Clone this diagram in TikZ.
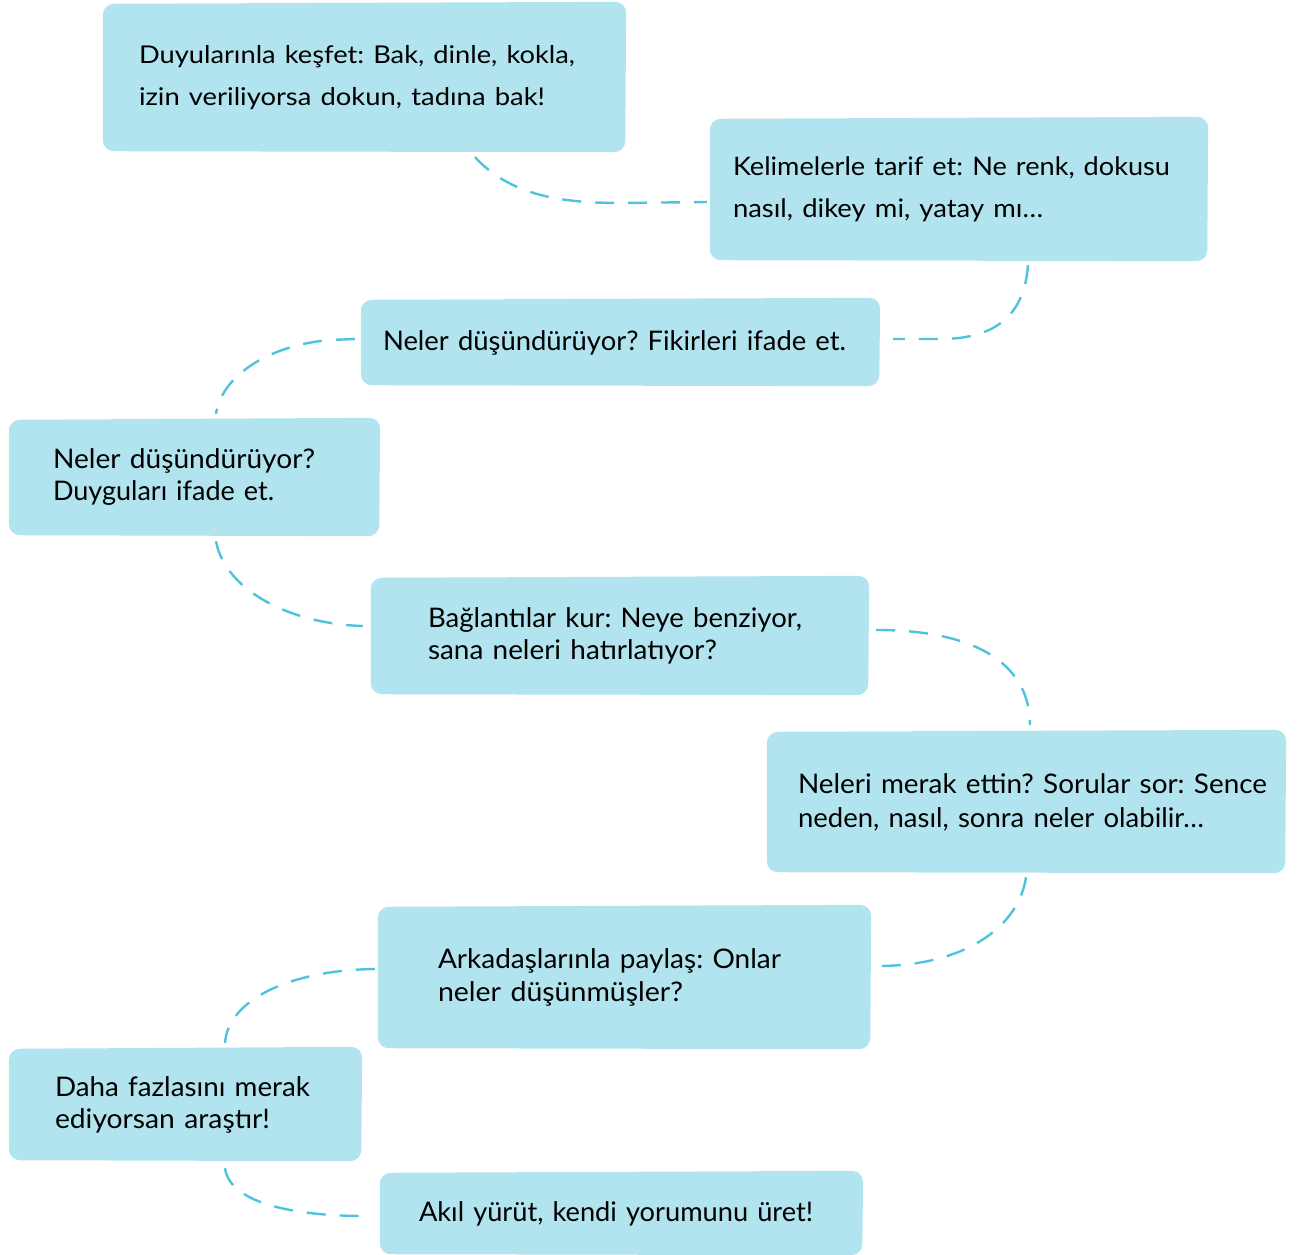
\documentclass[tikz,border=0pt]{standalone}
\usepackage{fontspec}
\usepackage{graphicx}
\setmainfont{Lato}
\frenchspacing
\usetikzlibrary{calc,backgrounds}
\definecolor{boxfill}{HTML}{B1E4EE}
\definecolor{dashcol}{HTML}{4FC3DB}
\newcommand\fitline[2]{\resizebox{#1pt}{\height}{#2}}
\tikzset{
  stepbox/.style={draw=none, fill=none, align=left, anchor=center, inner ysep=0pt},
  conn/.style={draw=dashcol, line width=2.4pt, dash pattern=on 19pt off 14pt},
  blob/.style={fill=boxfill, rounded corners=11pt}
}
\begin{document}
\begin{tikzpicture}[x=1pt,y=-1pt]
\useasboundingbox (0,0) rectangle (1301,1255);

\node[stepbox, minimum width=525pt, minimum height=149pt, text width=451pt, inner xsep=37pt, font=\fontsize{24.5}{42}\selectfont] (b1) at (364.5,77.5)
  {\fitline{436}{Duyularınla keşfet: Bak, dinle, kokla,}\\\fitline{406}{izin veriliyorsa dokun, tadına bak!}};
\node[stepbox, minimum width=500pt, minimum height=143pt, text width=452pt, inner xsep=24pt, font=\fontsize{25.5}{42}\selectfont] (b2) at (959,189.5)
  {\fitline{437}{Kelimelerle tarif et: Ne renk, dokusu}\\\fitline{310}{nasıl, dikey mi, yatay mı…}};
\node[stepbox, minimum width=521pt, minimum height=87pt, text width=475pt, inner xsep=23pt, font=\fontsize{27}{32}\selectfont] (b3) at (620.5,342.5)
  {\fitline{463}{Neler düşündürüyor? Fikirleri ifade et.}};
\node[stepbox, minimum width=373pt, minimum height=117pt, text width=283pt, inner xsep=45pt, font=\fontsize{27}{32}\selectfont] (b4) at (194.5,477.5)
  {\fitline{262}{Neler düşündürüyor?}\\\fitline{221}{Duyguları ifade et.}};
\node[stepbox, minimum width=500pt, minimum height=118pt, text width=384pt, inner xsep=58pt, font=\fontsize{27}{32}\selectfont] (b5) at (620,636)
  {\fitline{374}{Bağlantılar kur: Neye benziyor,}\\\fitline{289}{sana neleri hatırlatıyor?}};
\node[stepbox, minimum width=521pt, minimum height=142pt, text width=457pt, inner xsep=32pt, font=\fontsize{27}{34}\selectfont] (b6) at (1026.5,802)
  {\fitline{469}{Neleri merak ettin? Sorular sor: Sence}\\\fitline{406}{neden, nasıl, sonra neler olabilir…}};
\node[stepbox, minimum width=495pt, minimum height=143pt, text width=373pt, inner xsep=61pt, font=\fontsize{27}{33}\selectfont] (b7) at (624.5,977.5)
  {\fitline{343}{Arkadaşlarınla paylaş: Onlar}\\\fitline{245}{neler düşünmüşler?}};
\node[stepbox, minimum width=355pt, minimum height=113pt, text width=261pt, inner xsep=47pt, font=\fontsize{27}{32}\selectfont] (b8) at (185.5,1104.5)
  {\fitline{255}{Daha fazlasını merak}\\\fitline{215}{ediyorsan araştır!}};
\node[stepbox, minimum width=485pt, minimum height=83pt, text width=405pt, inner xsep=40pt, font=\fontsize{27}{32}\selectfont] (b9) at (621.5,1213.5)
  {\fitline{394}{Akıl yürüt, kendi yorumunu üret!}};

\begin{pgfonlayer}{background}
\foreach \n in {b1,b2,b3,b4,b5,b6,b7,b8,b9}{
  \fill[blob] ($(\n.north west)+(1,1)$) -- ($(\n.north east)+(-1,-1)$)
     -- ($(\n.south east)+(-2,0)$) -- ($(\n.south west)+(1,-1)$) -- cycle;
}
\end{pgfonlayer}

\draw[conn] ($(b1.south)+(110.5,5)$) .. controls (510,195) and (560,203) .. (620,203) -- ($(b2.west)+(-2,12.5)$);
\draw[conn] ($(b2.south)+(69,4)$) .. controls (1024,320) and (990,339) .. (940,339) -- ($(b3.east)+(12,-3.5)$);
\draw[conn] ($(b3.west)+(-5,-3.5)$) -- (330,340) .. controls (270,345) and (222,375) .. ($(b4.north)+(21.5,-5)$);
\draw[conn] ($(b4.south)+(21.5,5)$) .. controls (225,590) and (290,624) .. ($(b5.west)+(-7,-10)$);
\draw[conn] ($(b5.east)+(6,-6)$) .. controls (985,630) and (1030,670) .. ($(b6.north)+(3.5,-6)$);
\draw[conn] ($(b6.south)+(-0.5,4)$) .. controls (1018,930) and (960,966) .. ($(b7.east)+(6,-11.5)$);
\draw[conn] ($(b7.west)+(-2,-8.5)$) .. controls (290,970) and (228,1000) .. ($(b8.north)+(39.5,-5)$);
\draw[conn] ($(b8.south)+(39.5,7)$) .. controls (230,1205) and (300,1216) .. ($(b9.west)+(-14,2.5)$);
\end{tikzpicture}
\end{document}
